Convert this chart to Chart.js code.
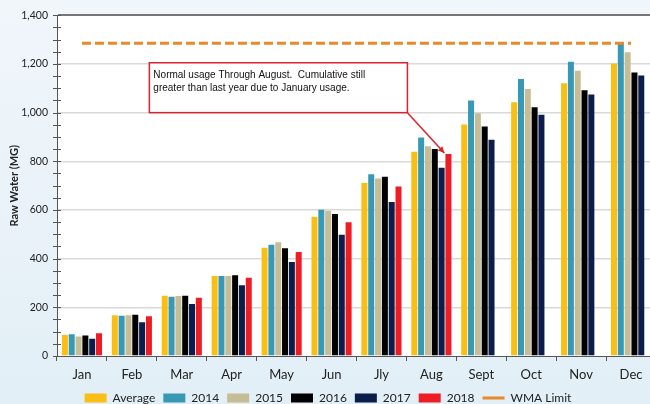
<!DOCTYPE html>
<html lang="en">
<head>
<meta charset="UTF-8">
<title>Raw Water Usage</title>
<script src="https://cdn.jsdelivr.net/npm/chart.js"></script>
<style>
    html, body { margin: 0; padding: 0; overflow: hidden; }
    body { width: 650px; height: 404px; background: linear-gradient(#f1f6fb, #e2eff6); }
    #wrap { width: 656px; height: 404px; position: relative; }
</style>
</head>
<body>
<div id="wrap"><canvas id="usageChart"></canvas></div>
<script>
    const months = ['Jan', 'Feb', 'Mar', 'Apr', 'May', 'Jun', 'Jly', 'Aug', 'Sept', 'Oct', 'Nov', 'Dec'];
    const average = [86, 167, 248, 329, 445, 572, 711, 839, 951, 1043, 1121, 1202];
    const y2014 = [89, 165, 243, 329, 457, 601, 747, 898, 1050, 1138, 1209, 1286];
    const y2015 = [80, 167, 247, 329, 467, 597, 729, 862, 998, 1097, 1172, 1248];
    const y2016 = [84, 169, 248, 332, 443, 583, 737, 851, 943, 1022, 1092, 1165];
    const y2017 = [71, 139, 214, 291, 386, 498, 633, 774, 889, 991, 1075, 1153];
    const y2018 = [93, 163, 239, 322, 427, 550, 697, 830, null, null, null, null];
    const wmaLimit = [1285, 1285, 1285, 1285, 1285, 1285, 1285, 1285, 1285, 1285, 1285, 1285];

    const noteLines = ['Normal usage Through August.  Cumulative still', 'greater than last year due to January usage.'];

    function barSet(label, data, color) {
        return {
            type: 'bar', label: label, data: data, backgroundColor: color,
            pointStyle: 'rect', order: 2,
            categoryPercentage: 0.82, barPercentage: 0.88
        };
    }

    // white plot area
    const plotBg = {
        id: 'plotBg',
        beforeDraw(chart) {
            const a = chart.chartArea, ctx = chart.ctx;
            ctx.save();
            ctx.fillStyle = '#ffffff';
            ctx.fillRect(a.left, a.top, a.right - a.left, a.bottom - a.top);
            ctx.restore();
        }
    };

    // y-axis tick crosses every 50
    const yTicks = {
        id: 'yTicks',
        afterDraw(chart) {
            const y = chart.scales.y, a = chart.chartArea, ctx = chart.ctx;
            ctx.save();
            ctx.strokeStyle = '#555';
            ctx.lineWidth = 1;
            for (let v = 0; v <= 1400; v += 50) {
                const py = Math.round(y.getPixelForValue(v)) + 0.5;
                ctx.beginPath();
                ctx.moveTo(a.left - 4, py);
                ctx.lineTo(a.left + 4, py);
                ctx.stroke();
            }
            ctx.restore();
        }
    };

    // callout box and arrow
    const callout = {
        id: 'callout',
        afterDraw(chart) {
            const x = chart.scales.x, y = chart.scales.y, ctx = chart.ctx;
            const px = i => x.getPixelForDecimal((i + 0.5) / months.length);
            const left = px(1.35), right = px(6.52);
            const top = y.getPixelForValue(1205), bottom = y.getPixelForValue(1000);
            const ex = px(7.26), ey = y.getPixelForValue(834);
            ctx.save();
            ctx.fillStyle = '#ffffff';
            ctx.fillRect(left, top, right - left, bottom - top);
            ctx.strokeStyle = '#d9232e';
            ctx.lineWidth = 1.5;
            ctx.strokeRect(left, top, right - left, bottom - top);
            ctx.beginPath();
            ctx.moveTo(right, bottom);
            ctx.lineTo(ex, ey);
            ctx.stroke();
            const ang = Math.atan2(ey - bottom, ex - right);
            ctx.fillStyle = '#d9232e';
            ctx.beginPath();
            ctx.moveTo(ex, ey);
            ctx.lineTo(ex - 7 * Math.cos(ang - 0.45), ey - 7 * Math.sin(ang - 0.45));
            ctx.lineTo(ex - 7 * Math.cos(ang + 0.45), ey - 7 * Math.sin(ang + 0.45));
            ctx.closePath();
            ctx.fill();
            ctx.fillStyle = '#111';
            ctx.font = '10px "Liberation Sans", sans-serif';
            ctx.textBaseline = 'alphabetic';
            noteLines.forEach((t, i) => ctx.fillText(t, left + 4, top + 15 + i * 13));
            ctx.restore();
        }
    };

    Chart.defaults.font.family = 'Lato, "Open Sans", sans-serif';
    Chart.defaults.color = '#222';

    new Chart(document.getElementById('usageChart'), {
        data: {
            labels: months,
            datasets: [
                barSet('Average', average, '#f9bf14'),
                barSet('2014', y2014, '#3799b5'),
                barSet('2015', y2015, '#c6bd97'),
                barSet('2016', y2016, '#000000'),
                barSet('2017', y2017, '#0b1d4a'),
                barSet('2018', y2018, '#ee1c24'),
                {
                    type: 'line', label: 'WMA Limit', data: wmaLimit,
                    borderColor: '#e8892b', backgroundColor: '#e8892b',
                    borderWidth: 3, borderDash: [9, 4], pointRadius: 0,
                    pointStyle: 'line', order: 1
                }
            ]
        },
        options: {
            responsive: true,
            maintainAspectRatio: false,
            animation: false,
            layout: { padding: { top: 15, right: 0, left: 0, bottom: -10 } },
            plugins: {
                legend: {
                    position: 'bottom',
                    labels: {
                        usePointStyle: true, pointStyleWidth: 22, boxHeight: 9,
                        padding: 8, font: { size: 12 }, color: '#222',
                        sort: (a, b) => a.datasetIndex - b.datasetIndex
                    }
                },
                tooltip: { enabled: false }
            },
            scales: {
                x: {
                    grid: { offset: true, drawOnChartArea: false, drawTicks: true, tickLength: 5, tickColor: '#555' },
                    border: { color: '#555', width: 1 },
                    ticks: { font: { size: 13 }, color: '#222', padding: 6 },
                    afterFit(s) { s.height = 28; }
                },
                y: {
                    min: 0, max: 1400,
                    ticks: { stepSize: 200, font: { size: 10.5 }, color: '#222', padding: 9,
                        callback: v => v.toLocaleString('en-US') },
                    grid: {
                        drawTicks: false,
                        color: c => c.tick.value === 1400 ? '#777' : (c.tick.value === 0 ? 'rgba(0,0,0,0)' : '#d9d9d9'),
                        lineWidth: c => c.tick.value === 1400 ? 2 : 1.5
                    },
                    border: { color: '#555', width: 1 },
                    title: { display: true, text: 'Raw Water (MG)', font: { size: 11, weight: 'bold' }, color: '#222', padding: { top: 8, bottom: 0 } },
                    afterFit(s) { s.width = 57; }
                }
            }
        },
        plugins: [plotBg, yTicks, callout]
    });
</script>
</body>
</html>
